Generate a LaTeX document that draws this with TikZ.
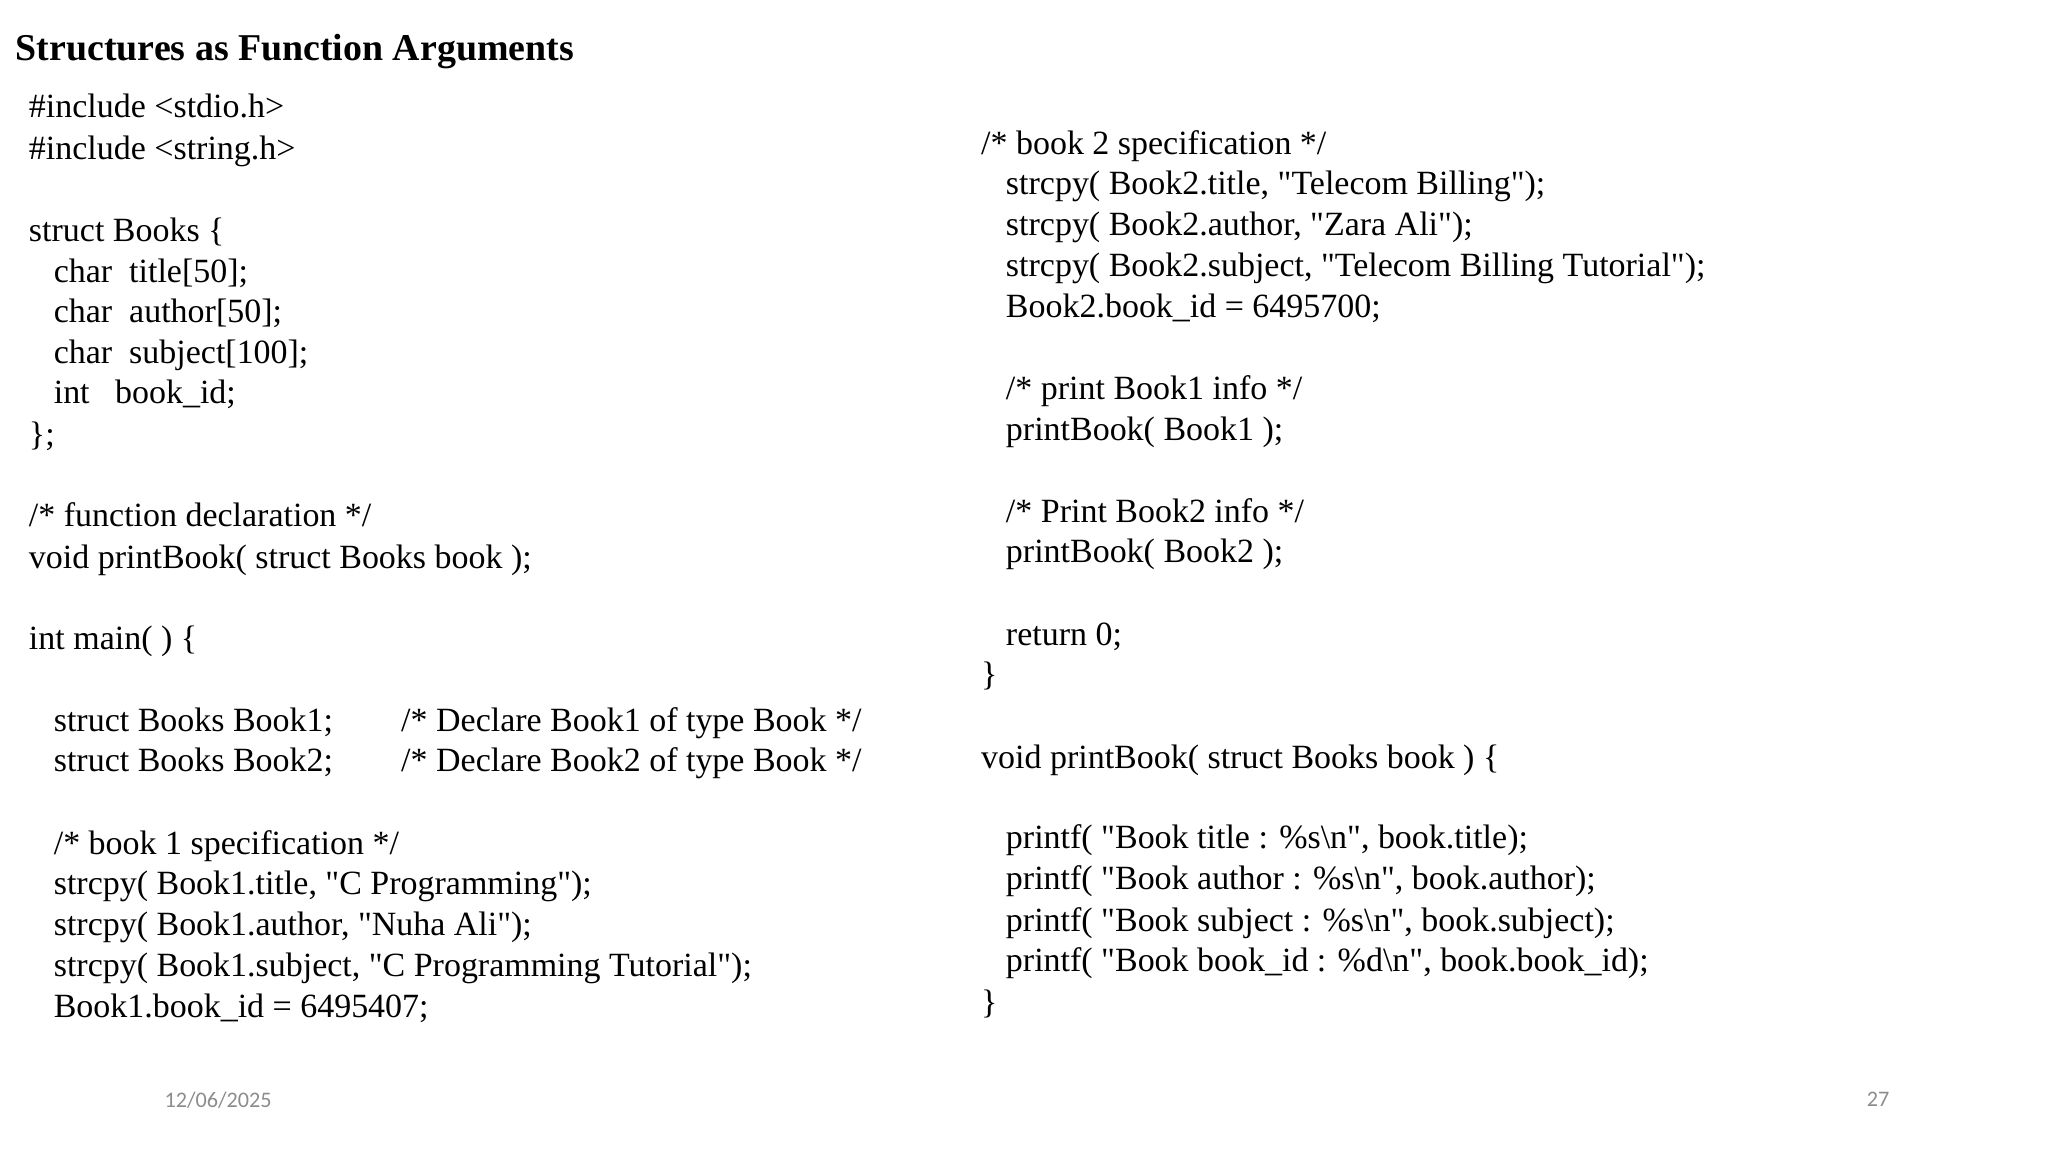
\documentclass[tikz,border=0pt]{standalone}
\usepackage{fontspec}
\setmainfont{Liberation Serif}[Ligatures=TeXOff]
\newfontfamily\footfont{Carlito}
\newcommand\qq{"}
\begin{document}
\begin{tikzpicture}[x=1pt,y=-1pt,
  code/.style={anchor=base west,inner sep=0pt,font=\fontsize{26}{30}\selectfont},
  foot/.style={inner sep=0pt,text=black!45,font=\footfont\fontsize{17}{20}\selectfont}]
\useasboundingbox (0,0) rectangle (1568,882);
\node[anchor=base west,inner sep=0pt,font=\fontsize{29}{33}\selectfont\bfseries] (title) at (12,46) {Structures as Function Arguments};
% left column
\node[code] (l1) at (22,90) {\#include <stdio.h>};
\node[code] (l2) at (22,122) {\#include <string.h>};
\node[code] (l3) at (22,185) {struct Books \{};
\node[code] (l4) at (41,216) {char\ \ title[50];};
\node[code] (l5) at (41,247) {char\ \ author[50];};
\node[code] (l6) at (41,278) {char\ \ subject[100];};
\node[code] (l7) at (41,309) {int\ \ \ book\_id;};
\node[code] (l8) at (22,341) {\};};
\node[code] (l9) at (22,403) {/* function declaration */};
\node[code] (l10) at (22,435) {void printBook( struct Books book );};
\node[code] (l11) at (22,497) {int main( ) \{};
\node[code] (l12) at (41,560) {struct Books Book1;};
\node[code] (c12) at (307,560) {/* Declare Book1 of type Book */};
\node[code] (l13) at (41,591) {struct Books Book2;};
\node[code] (c13) at (307,591) {/* Declare Book2 of type Book */};
\node[code] (l14) at (41,654) {/* book 1 specification */};
\node[code] (l15) at (41,685) {strcpy( Book1.title, \qq C Programming\qq);};
\node[code] (l16) at (41,716) {strcpy( Book1.author, \qq Nuha Ali\qq);};
\node[code] (l17) at (41,748) {strcpy( Book1.subject, \qq C Programming Tutorial\qq);};
\node[code] (l18) at (41,779) {Book1.book\_id = 6495407;};
% right column
\node[code] (r1) at (751,118) {/* book 2 specification */};
\node[code] (r2) at (770,149) {strcpy( Book2.title, \qq Telecom Billing\qq);};
\node[code] (r3) at (770,180) {strcpy( Book2.author, \qq Zara Ali\qq);};
\node[code] (r4) at (770,212) {strcpy( Book2.subject, \qq Telecom Billing Tutorial\qq);};
\node[code] (r5) at (770,243) {Book2.book\_id = 6495700;};
\node[code] (r6) at (770,306) {/* print Book1 info */};
\node[code] (r7) at (770,337) {printBook( Book1 );};
\node[code] (r8) at (770,400) {/* Print Book2 info */};
\node[code] (r9) at (770,431) {printBook( Book2 );};
\node[code] (r10) at (770,494) {return 0;};
\node[code] (r11) at (751,525) {\}};
\node[code] (r12) at (751,588) {void printBook( struct Books book ) \{};
\node[code] (r13) at (770,650) {printf( \qq Book title : \%s\textbackslash n\qq, book.title);};
\node[code] (r14) at (770,681) {printf( \qq Book author : \%s\textbackslash n\qq, book.author);};
\node[code] (r15) at (770,713) {printf( \qq Book subject : \%s\textbackslash n\qq, book.subject);};
\node[code] (r16) at (770,744) {printf( \qq Book book\_id : \%d\textbackslash n\qq, book.book\_id);};
\node[code] (r17) at (751,776) {\}};
% footer
\node[foot] (date) at (167,842) {12/06/2025};
\node[foot] (page) at (1438,842) {27};
\end{tikzpicture}
\end{document}
